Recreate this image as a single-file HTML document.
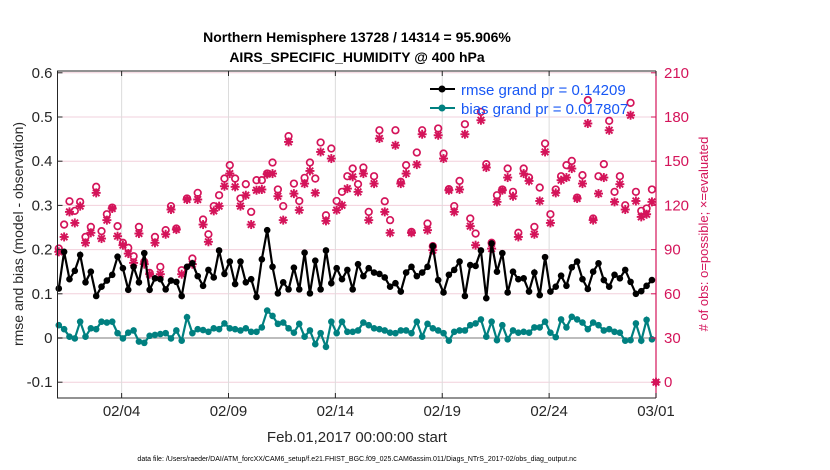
<!DOCTYPE html>
<html><head><meta charset="utf-8"><style>
html,body{margin:0;padding:0;background:#fff;}
svg{display:block;font-family:"Liberation Sans",Arial,sans-serif;}
</style></head><body>
<svg id="chart" width="830" height="470" viewBox="0 0 830 470">
<g id="grid"></g>
<g id="series"></g>
<g id="axes"></g>
<text x="357" y="42" text-anchor="middle" font-size="14" font-weight="bold">Northern Hemisphere 13728 / 14314 = 95.906%</text>
<text x="357" y="62" text-anchor="middle" font-size="14" font-weight="bold">AIRS_SPECIFIC_HUMIDITY @ 400 hPa</text>
<text x="357" y="442" text-anchor="middle" font-size="15" fill="#262626">Feb.01,2017 00:00:00 start</text>
<text transform="translate(23,234) rotate(-90)" text-anchor="middle" font-size="14" fill="#262626">rmse and bias (model - observation)</text>
<text transform="translate(708,234) rotate(-90)" text-anchor="middle" font-size="13" fill="#d4145a"># of obs: o=possible; ×=evaluated</text>
<text x="357" y="461" text-anchor="middle" font-size="7" fill="#000">data file: /Users/raeder/DAI/ATM_forcXX/CAM6_setup/f.e21.FHIST_BGC.f09_025.CAM6assim.011/Diags_NTrS_2017-02/obs_diag_output.nc</text>
<g>
<g>
<line x1="430" y1="89" x2="455" y2="89" stroke="#000" stroke-width="2"/><circle cx="442" cy="89" r="3.5" fill="#000"/>
<text x="461" y="95" font-size="15" fill="#1757f5">rmse grand pr = 0.14209</text></g>
<g>
<line x1="430" y1="108" x2="455" y2="108" stroke="#008080" stroke-width="2"/><circle cx="442" cy="108" r="3.5" fill="#008080"/>
<text x="461" y="114" font-size="15" fill="#1757f5">bias grand pr = 0.017807</text></g>
</g>
</svg>
<script>
const xTickDays=[3,8,13,18,23,28];
const xTickLabels=["02/04","02/09","02/14","02/19","02/24","03/01"];
const yLeftTicks=[-0.1,0,0.1,0.2,0.3,0.4,0.5,0.6];
const yRightTicks=[0,30,60,90,120,150,180,210];
const rmse=[0.112,0.195,0.133,0.152,0.188,0.126,0.150,0.095,0.116,0.130,0.143,0.184,0.158,0.109,0.161,0.126,0.192,0.109,0.135,0.133,0.110,0.130,0.127,0.095,0.161,0.169,0.140,0.118,0.154,0.137,0.198,0.145,0.173,0.122,0.173,0.126,0.133,0.093,0.178,
0.244,0.161,0.101,0.126,0.110,0.159,0.110,0.193,0.101,0.175,0.110,0.198,0.124,0.158,0.133,0.154,0.110,0.167,0.140,0.158,0.148,0.145,0.137,0.116,0.124,0.105,0.148,0.161,0.140,0.148,0.161,0.208,0.131,0.103,0.143,0.154,0.173,
0.095,0.165,0.163,0.198,0.090,0.214,0.150,0.192,0.103,0.150,0.133,0.135,0.105,0.148,0.097,0.183,0.105,0.116,0.141,0.118,0.160,0.173,0.133,0.111,0.150,0.169,0.131,0.116,0.143,0.135,0.154,0.127,0.100,0.106,0.118,0.131];
const bias=[0.029,0.020,0.003,-0.001,0.037,0.003,0.022,0.020,0.037,0.035,0.037,0.011,-0.001,0.012,0.017,-0.008,-0.011,0.005,0.007,0.009,0.011,-0.001,0.017,-0.006,0.047,0.011,0.020,0.018,0.014,0.022,0.020,0.033,0.022,0.020,0.017,0.022,0.014,0.014,0.024,
0.062,0.050,0.032,0.035,0.022,0.012,0.032,0.003,0.017,-0.014,0.011,-0.020,0.037,0.011,0.037,0.014,0.014,0.017,0.035,0.029,0.022,0.020,0.017,0.012,0.011,0.017,0.017,0.011,0.037,0.003,0.032,0.022,0.017,0.011,-0.006,0.014,0.017,
0.017,0.029,0.033,0.042,0.003,0.037,-0.005,0.029,-0.003,0.017,0.012,0.014,0.012,0.024,0.024,0.037,0.012,0.002,0.042,0.024,0.048,0.042,0.035,0.020,0.035,0.029,0.017,0.020,0.014,0.012,-0.006,-0.005,0.033,-0.006,0.041,-0.003];
const possible=[90.7,107,122.8,116.3,122.4,98.6,105.4,132.6,102.5,114,118.5,105.9,94.6,91.2,85.5,105.4,81.7,74.2,98.6,78.3,103.2,119.5,104.3,76,124.7,83.9,128.5,110.4,100.4,119.5,126.9,138.2,147.3,138.2,124.7,134.4,115.6,137.1,137.1,
141.6,149.1,130.8,119.5,167,134.8,123,138.7,149.1,138.2,162.7,113.3,158.6,123,129.2,139.8,145,134.4,145.7,115.6,139.8,171,122.8,110,171,136,147.3,102,155.9,171,107.7,92.3,172.2,155.2,131,119.5,136.6,
175.1,111.1,100.9,183.5,148,94.6,126.9,130.8,145,129.2,101.4,145,138.9,105.4,132.1,162,114,130.8,139.8,147.3,150.2,125.3,140.5,191.4,111.1,139.8,148,177.4,129.2,139.8,120.1,189.6,129.2,116.3,117.9,130.8];
const evaluated=[88.5,98.6,115.6,108.1,119.5,94.6,101.4,128.5,97.5,110,117.9,99.1,93,87.3,81,100.9,80.1,73.3,94.6,73.3,100.4,117.2,103.6,73.3,124,80.1,124,107,95.3,116.3,119.5,133,141.6,132.6,119.5,126.9,107,130.3,130.8,
141.2,141.6,126.2,110,163.1,128,116.8,134.8,143.4,128.5,156.3,109.5,151.8,116.8,120.1,131.4,139.4,129.2,141.6,110,134.8,165.4,115.6,101.4,160.8,134.8,141.6,101.4,147.7,168.3,103.2,89.6,167.6,151.8,130.3,115.6,130.8,
168.3,105.9,93,177.8,145.7,90.7,122.4,130.3,138.9,126.2,98.6,141.6,136.6,100.4,123,156.3,108.1,128.5,137.1,138.9,145,124.7,134.8,175.6,110,128,138.9,171,122.4,134.4,117.2,181.2,123,112.2,114,122.4];
const finalDay=28, finalCount=0;

const NS="http://www.w3.org/2000/svg";
const L=57.5,R=656,T=71,B=398;
const xs=d=>L+(d/28)*(R-L);
const yl=v=>338-v*442;
const yr=c=>yl(c/300-0.1);
const tDay=i=>i*0.25+0.06;
function mk(tag,attrs,parent){const e=document.createElementNS(NS,tag);for(const k in attrs)e.setAttribute(k,attrs[k]);parent.appendChild(e);return e;}
const grid=document.getElementById('grid'),ser=document.getElementById('series'),ax=document.getElementById('axes');
const PINK="#d4145a";
yLeftTicks.forEach(v=>{const g=mk('line',{x1:L,x2:R,y1:yl(v),y2:yl(v),stroke:v===0?'#bdbdbd':'#f2d0dc','stroke-width':v===0?2:1},grid);

});
xTickDays.forEach(d=>{const g=mk('line',{x1:xs(d),x2:xs(d),y1:T,y2:B,stroke:'#dcdcdc','stroke-width':1},grid);

});
function line(arr,color,name){
 const pts=arr.map((v,i)=>xs(tDay(i)).toFixed(1)+','+yl(v).toFixed(1)).join(' ');
 const p=mk('polyline',{points:pts,fill:'none',stroke:color,'stroke-width':2.2},ser);
 
 
 arr.forEach((v,i)=>{const c=mk('circle',{cx:xs(tDay(i)),cy:yl(v),r:3.3,fill:color},ser);
 
 });
}
function star(x,y,name){
 const g=mk('g',{stroke:PINK,'stroke-width':1.9},ser);
 
 
 const s=4.5;
 mk('line',{x1:x-s,y1:y,x2:x+s,y2:y},g);mk('line',{x1:x,y1:y-s,x2:x,y2:y+s},g);
 mk('line',{x1:x-3.3,y1:y-3.3,x2:x+3.3,y2:y+3.3},g);mk('line',{x1:x-3.3,y1:y+3.3,x2:x+3.3,y2:y-3.3},g);
}
possible.forEach((c,i)=>{const e=mk('circle',{cx:xs(tDay(i)),cy:yr(c),r:3.3,fill:'none',stroke:PINK,'stroke-width':1.7},ser);

});
evaluated.forEach((c,i)=>star(xs(tDay(i)),yr(c),'evaluated-obs-marker'));
const fz=mk('circle',{cx:xs(finalDay),cy:yr(finalCount),r:3.3,fill:PINK},ser);


star(xs(finalDay),yr(finalCount),'final-evaluated-marker');
line(rmse,'#000','rmse');
line(bias,'#008080','bias');
const fr=mk('path',{d:`M${R},${T}H${L}V${B}H${R}`,fill:'none',stroke:'#262626','stroke-width':1},ax);


const ra=mk('line',{x1:R,x2:R,y1:T,y2:B,stroke:PINK,'stroke-width':1.2},ax);


yLeftTicks.forEach(v=>{mk('line',{x1:L,x2:L+5,y1:yl(v),y2:yl(v),stroke:'#262626'},ax);
 const t=mk('text',{x:L-5,y:yl(v)+5,'text-anchor':'end','font-size':15,fill:'#262626'},ax);t.textContent=(v===0?'0':String(v));
 
 });
yRightTicks.forEach(c=>{mk('line',{x1:R-5,x2:R,y1:yr(c),y2:yr(c),stroke:PINK},ax);
 const t=mk('text',{x:R+8,y:yr(c)+5,'font-size':15,fill:PINK},ax);t.textContent=String(c);
 
 });
xTickDays.forEach((d,i)=>{mk('line',{x1:xs(d),x2:xs(d),y1:B,y2:B-5,stroke:'#262626'},ax);mk('line',{x1:xs(d),x2:xs(d),y1:T,y2:T+5,stroke:'#262626'},ax);
 const t=mk('text',{x:xs(d),y:B+18,'text-anchor':'middle','font-size':15,fill:'#262626'},ax);t.textContent=xTickLabels[i];
 
 });
</script>
</body></html>
